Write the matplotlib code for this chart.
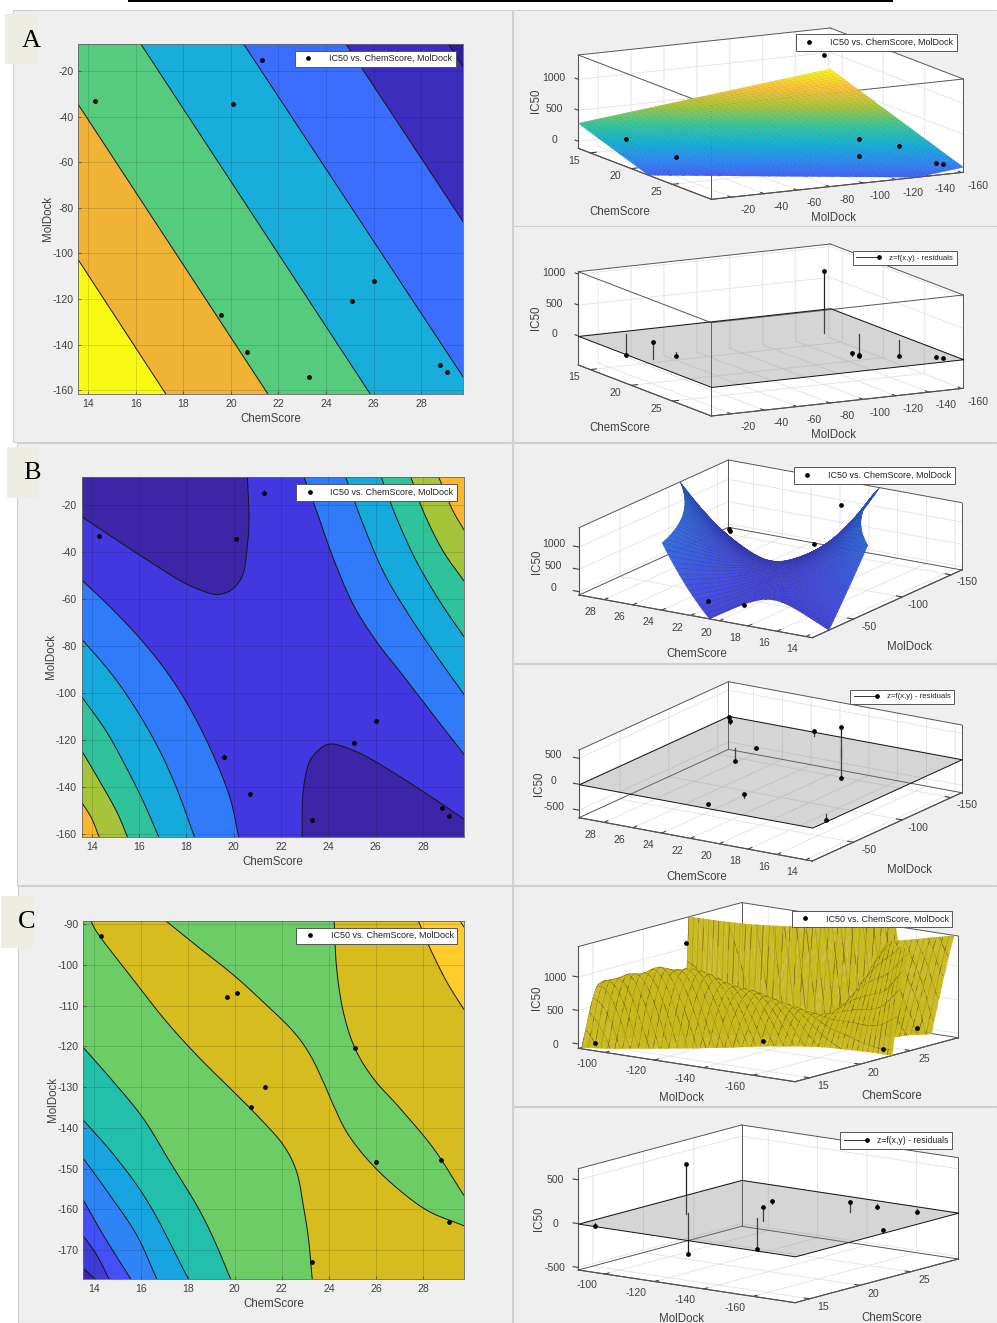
import numpy as np
import matplotlib
matplotlib.use('Agg')
import matplotlib.pyplot as plt
from matplotlib.colors import LinearSegmentedColormap, Normalize, to_rgba
from matplotlib.legend_handler import HandlerBase
from matplotlib.lines import Line2D
from matplotlib.patches import Rectangle
from mpl_toolkits.mplot3d.art3d import Poly3DCollection
from mpl_toolkits.mplot3d import proj3d

W, H = 997, 1323
plt.rcParams['font.family'] = ['Liberation Sans', 'DejaVu Sans']
plt.rcParams['axes.unicode_minus'] = False
TXT = '#404040'

# ---------- data ----------
chem_ab = [14.3, 19.6, 20.1, 20.7, 21.3, 23.3, 25.1, 26.0, 28.8, 29.1]
mol_ab = [-33, -127, -34.5, -143, -15, -154, -121, -112, -149, -152]
chem_c = [14.3, 19.65, 20.1, 20.7, 21.3, 23.3, 25.1, 26.0, 28.75, 29.1]
mol_c = [-93, -108, -107, -135, -130, -173, -120.5, -148.5, -148, -163]
ic50 = [10, 1360, 5, 15, 210, 10, 25, 50, 20, 20]
res_a = [-344, 1005, -75, -350, 274, -258, -50, 48, 20, 20]
res_b = [-113, 605, 87, -577, 0, 97, -32, -245, 56, 90]
res_c = [-34, 570, -475, 160, -360, -17, 30, 114, -30, -30]

# which points sit in front of the fitted surface
front_a = [1, 1, 1, 1, 0, 1, 1, 0, 1, 1]
front_b = [0, 1, 1, 0, 1, 1, 0, 0, 1, 1]
front_c = [1, 1, 0, 1, 0, 1, 0, 0, 0, 1]

# A: contour lines (ChemScore, MolDock), low to high
A_lines = [
    [(13.59, -102.8), (17.26, -161.5)],
    [(13.59, -34.7), (21.55, -161.5)],
    [(16.21, -8), (25.85, -161.5)],
    [(20.53, -8), (29.77, -154.3)],
    [(24.83, -8), (29.77, -86.2)],
    [(29.14, -8), (29.77, -18.3)],
]
A_colors = ['#F8FA14', '#F0B335', '#55CC7D', '#18ADDB', '#3B6DFF', '#3D2DBD', '#2D1E9E']
# A surface heights at corners: (x low,y high), (x low,y low), (x high,y low)
A_corner_z = [290, 731, -32]

# B: contour lines
B_dark_tl = [(13.58, -24.96), (15.06, -34.9), (16.46, -44.1), (17.87, -52.9), (18.86, -57.1), (19.42, -58.0),
             (19.99, -55.4), (20.41, -49.0), (20.58, -37.0), (20.65, -25.7), (20.58, -8.1)]
B_dark_br = [(22.89, -161), (22.92, -143.3), (23.15, -130.5), (23.51, -124.9), (24.0, -121.7), (24.63, -122.7),
             (25.62, -127.0), (27.03, -135.5), (28.44, -144.7), (29.73, -153.5)]
B_tr = [
    [(22.97, -8.1), (23.51, -22.8), (24.21, -42.7), (25.06, -62.5), (26.04, -78.1), (27.03, -90.9), (28.44, -109.3), (29.73, -126)],
    [(24.73, -8.1), (25.48, -28.5), (26.32, -48.3), (27.31, -65.3), (28.44, -82.3), (29.73, -100.5)],
    [(26.23, -8.1), (26.89, -25.7), (27.73, -44.1), (28.72, -61.1), (29.73, -76)],
    [(27.48, -8.1), (28.08, -24.3), (28.86, -39.8), (29.73, -52.3)],
    [(28.66, -8.1), (29.21, -21.4), (29.73, -30.6)],
]
B_bl = [
    [(13.58, -51.9), (14.77, -63.2), (16.04, -76.7), (17.17, -90.9), (18.15, -106.4), (19.14, -126.3), (19.85, -144.7), (20.21, -161)],
    [(13.58, -77), (14.77, -90.9), (15.76, -105), (16.75, -122), (17.59, -140.4), (18.34, -161)],
    [(13.58, -101.5), (14.63, -116.4), (15.48, -131.9), (16.18, -146), (16.83, -161)],
    [(13.58, -124.4), (14.35, -137.6), (15.06, -150.4), (15.51, -161)],
    [(13.58, -146.4), (14, -153.2), (14.31, -161)],
]
B_base = '#4338E0'
B_dark = '#3D25A8'
B_band_colors = ['#2F7BFA', '#16A9DB', '#2FC29B', '#A5C43A', '#FBB82E']
B_level_low = -75
B_level_step = 1000

# C: contour lines, low to high along the picture
C_lines = [
    [(13.56, -174.5), (14.06, -177)],
    [(13.56, -166.5), (14.13, -171.2), (14.65, -177)],
    [(13.56, -157.7), (14.41, -166.3), (15.57, -177)],
    [(13.56, -147.5), (14.69, -156.5), (15.83, -166.3), (16.68, -177)],
    [(13.56, -138.1), (14.98, -147.5), (16.39, -159), (18.02, -177)],
    [(13.56, -120.3), (14.84, -128.7), (16.11, -137.7), (17.24, -148.3), (18.38, -159), (19.09, -167.1), (19.82, -177)],
    [(13.87, -89.2), (14.27, -93.1), (15.69, -103.7), (17.1, -114), (18.52, -123), (19.94, -131.1), (21.07, -137.7),
     (22.06, -144.2), (22.63, -150.8), (22.91, -159), (23.13, -167.1), (23.29, -177)],
    [(17.06, -89.2), (18.52, -96), (19.94, -102.5), (21.35, -109.9), (22.49, -116.4), (23.2, -122.1), (23.76, -128.7),
     (24.19, -134.4), (24.75, -141), (25.6, -147.5), (26.74, -154), (28.16, -160.2), (29.73, -164)],
    [(24.22, -89.2), (24.33, -100.9), (24.61, -111.5), (25.11, -120.5), (25.89, -127.9), (27.02, -135.2), (28.44, -145), (29.73, -156.5)],
    [(27.8, -89.2), (28.3, -96), (29.01, -104.2), (29.73, -110.9)],
    [(29.57, -89.2), (29.73, -90.7)],
]
C_colors = ['#3A26A8', '#3F3BD8', '#4450F5', '#2F84F5', '#16A5E0', '#22BFAB', '#6CCC66', '#D6BC1E', '#6CCC66', '#D6BC1E', '#FFCC2B', '#F8E030']
C_surface_color = '#C9B81C'
C_floor = -65
# surface heights read from the 3D view of C: (ChemScore, MolDock, IC50)
C_crest = [(15.5, -92, 965), (16.5, -98, 1134), (17.8, -104, 1178), (19.0, -112, 1064), (20.2, -118, 885),
           (21.3, -125, 671), (22.3, -132, 522), (23.0, -140, 412), (23.8, -150, 300)]
C_front_right = [(25.8, -164, 1500), (27, -168, 1500), (28.5, -172, 1500), (29.7, -175, 1500), (24.5, -170, 800),
                 (23.5, -177, 350), (23.9, -177, 1000)]
C_valley = [(19.5, -92, -2500), (22.3, -103, -2500), (24, -115, -2500), (25.5, -130, -2500), (27.5, -148, -2500), (29.7, -160, -2500)]
C_wall = [(24.45, -89.2, 1900), (24.58, -100.5, 1900), (24.88, -111, 1900), (25.33, -119.5, 1900), (26.1, -126.5, 1900),
          (27.2, -133.5, 1900), (28.6, -143.5, 1900), (29.73, -153, 1900)]
C_green_side = [(24.0, -89.2, -800), (24.1, -101, -800), (24.35, -112, -800), (24.9, -122, -800), (25.7, -129.5, -800),
                (26.8, -137, -800), (28.25, -147, -800), (29.6, -158.5, -800)]
C_low = [(13.56, -120.3, -3500), (14.84, -128.7, -3500), (16.11, -137.7, -3500), (17.24, -148.3, -3500), (18.38, -159, -3500), (19.82, -177, -3500)]
C_high = [(27.8, -89.2, 5000), (28.3, -96, 5000), (29.01, -104.2, 5000), (29.73, -110.9, 5000)]

LEG1 = 'IC50 vs. ChemScore, MolDock'
LEG2 = 'z=f(x,y) - residuals'

PARULA = LinearSegmentedColormap.from_list('parula', [
    (0.2422, 0.1504, 0.6603), (0.2810, 0.3228, 0.9579), (0.1786, 0.5289, 0.9682), (0.0689, 0.6948, 0.8394),
    (0.2161, 0.7843, 0.5923), (0.6720, 0.7793, 0.2227), (0.9970, 0.7659, 0.2199), (0.9769, 0.9839, 0.0805)])

fig = plt.figure(figsize=(W / 100, H / 100), dpi=100, facecolor='white')


def fx(px):
    return px / W


def fy(py):
    return 1 - py / H


def rect(x0, y0, x1, y1, color, ec='none', lw=0):
    fig.add_artist(Rectangle((fx(x0), fy(y1)), fx(x1) - fx(x0), fy(y0) - fy(y1), transform=fig.transFigure,
                             facecolor=color, edgecolor=ec, linewidth=lw, zorder=-5))


class StemHandler(HandlerBase):
    def create_artists(self, legend, orig, xd, yd, w, h, fs, trans):
        y = (h - yd) / 2
        line = Line2D([-xd, -xd + w], [y, y], color='#333333', lw=0.7, transform=trans)
        mark = Line2D([-xd + w], [y], marker='o', ms=2.4, color='k', ls='none', transform=trans)
        return [line, mark]


def legend(x0, y0, x1, y1, kind, fs=None, hl=None, htp=None):
    kw = {}
    if kind == 1:
        h = Line2D([], [], ls='none', marker='o', ms=2.4, color='k')
        label = LEG1
        fs, hl, htp = fs or 6.45, hl or 2.2, htp or 1.2
    else:
        h = Line2D([], [], ls='-', lw=0.7, color='#222222')
        label = LEG2
        kw['handler_map'] = {h: StemHandler()}
        fs, hl, htp = fs or 5.6, hl or 3.0, htp or 1.3
    fig.legend(handles=[h], labels=[label], loc='center', numpoints=1,
               bbox_to_anchor=(fx((x0 + x1) / 2), fy((y0 + y1) / 2)), borderaxespad=0,
               fontsize=fs, fancybox=False, framealpha=1, edgecolor='#555555', facecolor='white',
               handlelength=hl, handletextpad=htp, borderpad=0.42, labelcolor='#222222', **kw).get_frame().set_linewidth(0.7)


def smooth(pts, n=10):
    p = np.array(pts, float)
    if len(p) < 3:
        return p
    q = np.vstack([2 * p[0] - p[1], p, 2 * p[-1] - p[-2]])
    out = []
    for i in range(1, len(q) - 2):
        for t in np.linspace(0, 1, n, endpoint=False):
            a, b, c, d = q[i - 1], q[i], q[i + 1], q[i + 2]
            out.append(0.5 * (2 * b + (c - a) * t + (2 * a - 5 * b + 4 * c - d) * t ** 2 + (3 * b - a - 3 * c + d) * t ** 3))
    out.append(p[-1])
    return np.array(out)


def contour_axes(box, xlim, ylim, xticks, yticks):
    x0, y0, x1, y1 = box
    ax = fig.add_axes([fx(x0), fy(y1), fx(x1) - fx(x0), fy(y0) - fy(y1)])
    ax.set_xlim(*xlim)
    ax.set_ylim(*ylim)
    ax.set_xticks(xticks)
    ax.set_yticks(yticks)
    ax.tick_params(direction='in', length=2.5, width=0.5, labelsize=7.6, colors=TXT, pad=3.5)
    ax.grid(True, color='k', alpha=0.13, lw=0.7)
    ax.set_axisbelow(False)
    for s in ax.spines.values():
        s.set_linewidth(0.6)
        s.set_color('#666666')
    ax.set_xlabel('ChemScore', fontsize=8.3, color=TXT, labelpad=3.5)
    ax.set_ylabel('MolDock', fontsize=8.3, color=TXT, labelpad=-1)
    return ax


def band(ax, pts, closure, color, zorder):
    c = smooth(pts)
    poly = np.vstack([c, closure])
    ax.fill(poly[:, 0], poly[:, 1], color=color, lw=0, zorder=zorder)
    ax.plot(c[:, 0], c[:, 1], color='#151515', lw=0.7, zorder=zorder + 0.5)


def _norm_xy(X, Y):
    return (np.asarray(X, float) - 21.7) / 8.0, (np.asarray(Y, float) + 90) / 75.0


def fit_poly(lines, levels, deg=4):
    pts, vals = [], []
    for ln, lev in zip(lines, levels):
        s = smooth(ln, 4)
        pts.append(s)
        vals.append(np.full(len(s), float(lev)))
    pts = np.vstack(pts)
    vals = np.concatenate(vals)

    def design(X, Y):
        u, v = _norm_xy(X, Y)
        return np.stack([u ** i * v ** j for i in range(deg + 1) for j in range(deg + 1 - i)], axis=-1)

    coef = np.linalg.lstsq(design(pts[:, 0], pts[:, 1]), vals, rcond=None)[0]
    return lambda X, Y: design(X, Y) @ coef


def fit_tps(xs, ys, zs, reg=1e-2):
    u, v = _norm_xy(xs, ys)
    P = np.stack([u, v], axis=1)

    def kernel(a, b):
        d2 = ((a[:, None, :] - b[None, :, :]) ** 2).sum(-1)
        with np.errstate(divide='ignore', invalid='ignore'):
            k = 0.5 * d2 * np.log(d2)
        return np.nan_to_num(k)

    n = len(P)
    K = kernel(P, P) + reg * np.eye(n)
    Q = np.column_stack([np.ones(n), P])
    A = np.block([[K, Q], [Q.T, np.zeros((3, 3))]])
    sol = np.linalg.solve(A, np.concatenate([zs, np.zeros(3)]))

    def f(X, Y):
        a, b = _norm_xy(X, Y)
        shp = a.shape
        G = np.stack([a.ravel(), b.ravel()], axis=1)
        return (kernel(G, P) @ sol[:n] + sol[n] + sol[n + 1] * G[:, 0] + sol[n + 2] * G[:, 1]).reshape(shp)

    return f


def clip_poly(v, zmin, zmax):
    for lim, sign in ((zmin, 1), (zmax, -1)):
        out = []
        for i in range(len(v)):
            a, b = v[i], v[(i + 1) % len(v)]
            da, db = sign * (a[2] - lim), sign * (b[2] - lim)
            if da >= 0:
                out.append(a)
            if da * db < 0:
                out.append(a + (b - a) * da / (da - db))
        v = out
        if not v:
            return None
    return v


def surface(ax, X, Y, Z, zlim, colorf, edge_factor, lw, zorder):
    verts, cols, edges = [], [], []
    for i in range(X.shape[0] - 1):
        for j in range(X.shape[1] - 1):
            idx = [(i, j), (i + 1, j), (i + 1, j + 1), (i, j + 1)]
            zq = [Z[a, b] for a, b in idx]
            if max(zq) < zlim[0] or min(zq) > zlim[1]:
                continue
            c = clip_poly([np.array([X[a, b], Y[a, b], Z[a, b]]) for a, b in idx], *zlim)
            if c is None or len(c) < 3:
                continue
            verts.append(np.array(c))
            col = np.array(to_rgba(colorf(np.mean([p[2] for p in c]))))
            cols.append(col)
            edges.append((*(col[:3] * edge_factor), 1))
    pc = Poly3DCollection(verts, facecolors=cols, edgecolors=edges, linewidths=lw, zsort='average')
    pc.set_zorder(zorder)
    ax.add_collection3d(pc, autolim=False)


def meshed_surface(ax, X, Y, Z, zlim, color, line_color, step, zorder, bias=0.012):
    """Fine faces for a smooth outline, with mesh lines every `step` cells sorted among them.
    Mesh segments slide a little along the line of sight: same place on screen, just ahead in the sort."""
    verts, cols, edges, widths = [], [], [], []
    face = to_rgba(color)
    line = to_rgba(line_color)
    el, az = np.radians(ax.elev), np.radians(ax.azim)
    view = np.array([np.cos(el) * np.cos(az), np.cos(el) * np.sin(az), np.sin(el)])
    spans = np.array([ax.get_xlim()[1] - ax.get_xlim()[0], ax.get_ylim()[1] - ax.get_ylim()[0], ax.get_zlim()[1] - ax.get_zlim()[0]])
    nudge = bias * view * spans / np.asarray(ax._box_aspect)
    for i in range(X.shape[0] - 1):
        for j in range(X.shape[1] - 1):
            idx = [(i, j), (i + 1, j), (i + 1, j + 1), (i, j + 1)]
            zq = [Z[a, b] for a, b in idx]
            if max(zq) < zlim[0] or min(zq) > zlim[1]:
                continue
            c = clip_poly([np.array([X[a, b], Y[a, b], Z[a, b]]) for a, b in idx], *zlim)
            if c is None or len(c) < 3:
                continue
            verts.append(np.array(c))
            cols.append(face)
            edges.append(face)
            widths.append(0.15)
            segs = []
            if i % step == 0:
                segs.append(((i, j), (i, j + 1)))
            if j % step == 0:
                segs.append(((i, j), (i + 1, j)))
            for p, q in segs:
                s = clip_poly([np.array([X[p], Y[p], Z[p]]), np.array([X[q], Y[q], Z[q]])], *zlim)
                if s is None or len(s) < 2:
                    continue
                verts.append(np.array(s) + nudge)
                cols.append(line)
                edges.append(line)
                widths.append(0.4)
    pc = Poly3DCollection(verts, facecolors=cols, edgecolors=edges, linewidths=widths, zsort='average')
    pc.set_zorder(zorder)
    ax.add_collection3d(pc, autolim=False)


def box_axes(L, F, R, height, lim1, lim2, zlim, name1, name2, t1, t2, tz, pads, vas, lab1, lab2, labz, omit):
    ax = fig.add_axes([0.1, 0.1, 0.5, 0.5], projection='3d', computed_zorder=False)
    ax.patch.set_alpha(0)
    ax.set_proj_type('ortho')
    vx = np.array([F[0] - L[0], L[1] - F[1]], float)
    vy = np.array([R[0] - F[0], F[1] - R[1]], float)
    sin_el = np.sqrt(-(vx[1] / vx[0]) * (vy[1] / vy[0]))
    az = np.arctan(-(vy[1] / vy[0]) / sin_el)
    el = np.arcsin(sin_el)
    ax.view_init(elev=np.degrees(el), azim=np.degrees(az), roll=0)
    ax.set_box_aspect((abs(vx[0] / np.sin(az)), abs(vy[0] / np.cos(az)), height / np.cos(el)), zoom=0.6)
    ax.set_xlim(*lim1, view_margin=0)
    ax.set_ylim(*lim2, view_margin=0)
    ax.set_zlim(*zlim, view_margin=0)
    ax.set_xticks(t1)
    ax.set_yticks(t2)
    ax.set_zticks(tz)
    M = ax.get_proj()
    a = proj3d.proj_transform(lim1[0], lim2[0], zlim[0], M)
    c = proj3d.proj_transform(lim1[1], lim2[1], zlim[0], M)
    k = (R[0] - L[0]) / (c[0] - a[0])
    vl = ax.viewLim
    S = k * (vl.x1 - vl.x0)
    left = L[0] - (a[0] - vl.x0) * k
    bottom_px = L[1] + (a[1] - vl.y0) * k
    ax.set_position([left / W, 1 - bottom_px / H, S / W, S / H])

    for axis in (ax.xaxis, ax.yaxis, ax.zaxis):
        axis.set_pane_color((1, 1, 1, 1))
        axis.pane.set_edgecolor('none')
        axis.line.set_color('#444444')
        axis.line.set_linewidth(0.8)
        axis._axinfo['grid'].update(color='#E2E2E2', linewidth=0.6)
        axis._axinfo['tick'].update(inward_factor=0.0, outward_factor=0.3)
    ax.zaxis._axinfo['juggled'] = (1, 2, 0)
    ax.tick_params(labelsize=7.6, colors=TXT, width=0.5)
    ax.tick_params(axis='x', pad=pads[0])
    ax.tick_params(axis='y', pad=pads[1])
    ax.tick_params(axis='z', pad=pads[2])
    for labs, va in zip((ax.get_xticklabels(), ax.get_yticklabels(), ax.get_zticklabels()), vas):
        for lab in labs:
            lab.set_va(va)
    for s, (px, py), rot in ((name1, lab1, 0), (name2, lab2, 0), ('IC50', labz, 90)):
        ax.text2D(fx(px), fy(py), s, transform=fig.transFigure, fontsize=8.3, color=TXT, rotation=rot,
                  ha='center', va='center')
    # MATLAB-style box: every edge except those meeting the corner the view hides
    xs, ys, zs = lim1, lim2, zlim
    corners = {'back_bottom': (xs[0], ys[1], zs[0]), 'front_top': (xs[1], ys[0], zs[1])}
    hide = corners[omit]
    edges = []
    for y in ys:
        for z in zs:
            edges.append(((xs[0], y, z), (xs[1], y, z)))
    for x in xs:
        for z in zs:
            edges.append(((x, ys[0], z), (x, ys[1], z)))
    for x in xs:
        for y in ys:
            edges.append(((x, y, zs[0]), (x, y, zs[1])))
    for p, q in edges:
        if p == hide or q == hide:
            continue
        ax.plot([p[0], q[0]], [p[1], q[1]], [p[2], q[2]], color='#555555', lw=0.7, zorder=1)
    return ax


def points(ax, xs, ys, zs, front):
    xs, ys, zs, fr = map(np.array, (xs, ys, zs, front))
    ax.plot(xs[fr == 1], ys[fr == 1], zs[fr == 1], 'o', ms=2.4, color='k', zorder=8)


def residuals(ax, xs, ys, res, lim1, lim2):
    for x, y, r in zip(xs, ys, res):
        ax.plot([x, x], [y, y], [0, r], color='#222222', lw=0.9, zorder=3)
    v = [[(lim1[0], lim2[0], 0), (lim1[1], lim2[0], 0), (lim1[1], lim2[1], 0), (lim1[0], lim2[1], 0)]]
    pc = Poly3DCollection(v, facecolors=[(0.5, 0.5, 0.5, 0.33)], edgecolors='#111111', linewidths=0.7)
    pc.set_zorder(5)
    ax.add_collection3d(pc, autolim=False)
    ax.plot(xs, ys, res, 'o', ms=2.4, color='k', zorder=8)


# ---------- backdrops ----------
rect(128, 0, 893, 2.2, 'black')
for (x0, y0, x1, y1) in [(12.5, 10, 512, 441.5), (16.5, 442.5, 512, 885), (18, 886, 512, 1323),
                         (512.5, 10, 997, 225.5), (512.5, 226.5, 997, 441.5), (512.5, 442.5, 997, 663),
                         (512.5, 664, 997, 885), (512.5, 886, 997, 1106), (512.5, 1107, 997, 1323)]:
    rect(x0, y0, x1, y1, '#EFEFEF', ec='#CFCFCF', lw=0.8)
for (x0, y0, x1, y1), s, tx, ty in [((5, 14, 38, 64), 'A', 31, 41), ((7, 447, 39, 498), 'B', 32, 473),
                                    ((1, 896, 34, 948), 'C', 27, 922)]:
    fig.add_artist(Rectangle((fx(x0), fy(y1)), fx(x1) - fx(x0), fy(y0) - fy(y1), transform=fig.transFigure,
                             facecolor='#EEEDE4', edgecolor='none', zorder=20))
    fig.text(fx(tx), fy(ty), s, fontsize=19, family='Liberation Serif', color='k', ha='center', va='center', zorder=21)

# ---------- A contour ----------
axA = contour_axes((78.3, 43.7, 463.3, 393.7), (13.59, 29.77), (-161.5, -8), range(14, 30, 2), range(-160, 0, 20))
axA.set_facecolor(A_colors[0])
for i, ln in enumerate(A_lines):
    band(axA, ln, [(99, -999), (99, 999), (-99, 999)], A_colors[i + 1], 1 + i * 0.1)
axA.plot(chem_ab, mol_ab, 'o', ms=2.4, color='k', zorder=5)
legend(295.7, 52.3, 454.7, 65.3, 1)

# ---------- B contour ----------
axB = contour_axes((81.7, 477, 464, 836.7), (13.58, 29.73), (-161, -8.1), range(14, 30, 2), range(-160, 0, 20))
axB.set_facecolor(B_base)
band(axB, B_dark_tl, [(-99, 999)], B_dark, 1)
band(axB, B_dark_br, [(99, -999)], B_dark, 1)
for i, (tr, bl, col) in enumerate(zip(B_tr, B_bl, B_band_colors)):
    band(axB, tr, [(99, 999)], col, 1 + i * 0.1)
    band(axB, bl, [(-99, -999)], col, 1 + i * 0.1)
axB.plot(chem_ab, mol_ab, 'o', ms=2.4, color='k', zorder=5)
legend(297.7, 485.7, 455.3, 499, 1)

# ---------- C contour ----------
axC = contour_axes((83.3, 920.7, 463.7, 1278.7), (13.56, 29.73), (-177, -89.2), range(14, 30, 2), range(-170, -80, 10))
axC.set_facecolor(C_colors[0])
for i, ln in enumerate(C_lines):
    band(axC, ln, [(99, -999), (99, 999), (-99, 999)], C_colors[i + 1], 1 + i * 0.1)
axC.plot(chem_c, mol_c, 'o', ms=2.4, color='k', zorder=5)
legend(298.3, 929.3, 455.3, 942.3, 1)

# ---------- A 3D ----------
lim1, lim2 = (13.55, 29.75), (-8, -161)
PADS_A, PADS_B, PADS_C = (8.3, 23.7, 7.7), (13.7, 8.7, 8), (19, 7, 6.7)
VAS_A, VAS_B, VAS_C = ('center', 'bottom', 'center'), ('center', 'center', 'bottom'), ('bottom', 'center', 'center')
ax = box_axes((578.3, 148.3), (711.3, 199.3), (963.3, 172.3), 93.3, lim1, lim2, (-113, 1392), 'ChemScore', 'MolDock',
              [15, 20, 25], range(-160, 0, 20), [0, 500, 1000], PADS_A, VAS_A, (620, 212), (834, 218), (536, 101), 'back_bottom')
gx, gy = np.meshgrid(np.linspace(*lim1, 47), np.linspace(*lim2, 47), indexing='ij')
tx, ty = (gx - lim1[0]) / (lim1[1] - lim1[0]), (gy - lim2[0]) / (lim2[1] - lim2[0])
gz = A_corner_z[0] + ty * (A_corner_z[1] - A_corner_z[0]) + tx * (A_corner_z[2] - A_corner_z[1])
norm = Normalize(-300, 731)
surface(ax, gx, gy, gz, (-113, 1392), lambda z: PARULA(norm(z)), 0.88, 0.25, 4)
points(ax, chem_ab, mol_ab, ic50, front_a)
legend(796.7, 36, 956, 49.3, 1)

ax = box_axes((578.3, 365), (711.3, 416), (963.3, 388.3), 93.3, lim1, lim2, (-470, 1040), 'ChemScore', 'MolDock',
              [15, 20, 25], range(-160, 0, 20), [0, 500, 1000], PADS_A, VAS_A, (620, 428), (834, 435), (536, 318), 'back_bottom')
residuals(ax, chem_ab, mol_ab, res_a, lim1, lim2)
legend(853.3, 251.7, 956, 264.3, 2)

# ---------- B 3D ----------
lim1, lim2 = (29.75, 13.55), (-8, -161)
ax = box_axes((579, 595), (812.3, 637.7), (961.7, 570), 67.3, lim1, lim2, (-75, 1433), 'ChemScore', 'MolDock',
              range(14, 30, 2), [-50, -100, -150], [0, 500, 1000], PADS_B, VAS_B, (697, 654), (909, 647), (537, 562), 'front_top')
B_lines = [B_dark_tl, B_dark_br] + B_tr + B_bl
B_levels = [B_level_low] * 2 + [B_level_low + B_level_step * (k + 1) for k in range(5)] * 2
fB = fit_poly(B_lines, B_levels, deg=4)
gx, gy = np.meshgrid(np.linspace(*lim1, 71), np.linspace(*lim2, 71), indexing='ij')
norm = Normalize(-1351, 10249)
surface(ax, gx, gy, fB(gx, gy), (-75, 1433), lambda z: PARULA(norm(z)), 0.72, 0.3, 4)
points(ax, chem_ab, mol_ab, ic50, front_b)
legend(795.3, 468.3, 953.3, 482.3, 1)

ax = box_axes((579, 817.7), (812.3, 861), (961.7, 792.7), 67.7, lim1, lim2, (-645, 661), 'ChemScore', 'MolDock',
              range(14, 30, 2), [-50, -100, -150], [-500, 0, 500], PADS_B, VAS_B, (697, 877), (909, 870), (539, 784), 'front_top')
residuals(ax, chem_ab, mol_ab, res_b, lim1, lim2)
legend(851.3, 690.3, 953.3, 703, 2)

# ---------- C 3D ----------
lim1, lim2 = (-89.2, -177), (13.56, 29.73)
ax = box_axes((578.3, 1048.3), (795, 1081.7), (958.3, 1037.7), 101.7, lim1, lim2, (-65, 1453), 'MolDock', 'ChemScore',
              range(-160, -80, 20), [15, 20, 25], [0, 500, 1000], PADS_C, VAS_C, (682, 1098), (892, 1096), (537, 998), 'front_top')
ctrl = []
for ln in (C_lines[6], C_lines[7], C_lines[8]):
    ctrl += [(x, y, C_floor) for x, y in ln]
ctrl += [(x, y, i - r) for x, y, i, r in zip(chem_c, mol_c, ic50, res_c)]
ctrl += C_crest + C_front_right + C_valley + C_wall + C_green_side + C_low + C_high
ctrl = np.array(ctrl, float)
fC = fit_tps(ctrl[:, 0], ctrl[:, 1], ctrl[:, 2])
gy, gx = np.meshgrid(np.linspace(*lim1, 181), np.linspace(*lim2, 181), indexing='ij')
meshed_surface(ax, gy, gx, fC(gx, gy), (-65, 1453), C_surface_color, '#5E5610', 4, 4)
points(ax, mol_c, chem_c, ic50, front_c)
legend(793.3, 912, 950.7, 926, 1)

ax = box_axes((578.3, 1270), (795, 1302.7), (958.3, 1259), 101.3, lim1, lim2, (-529, 627), 'MolDock', 'ChemScore',
              range(-160, -80, 20), [15, 20, 25], [-500, 0, 500], PADS_C, VAS_C, (682, 1319), (892, 1318), (539, 1219), 'front_top')
residuals(ax, mol_c, chem_c, res_c, lim1, lim2)
legend(841.7, 1133.7, 950.7, 1147.2, 2, fs=6.2, hl=2.7, htp=1.2)

fig.savefig('out.png', dpi=100)
